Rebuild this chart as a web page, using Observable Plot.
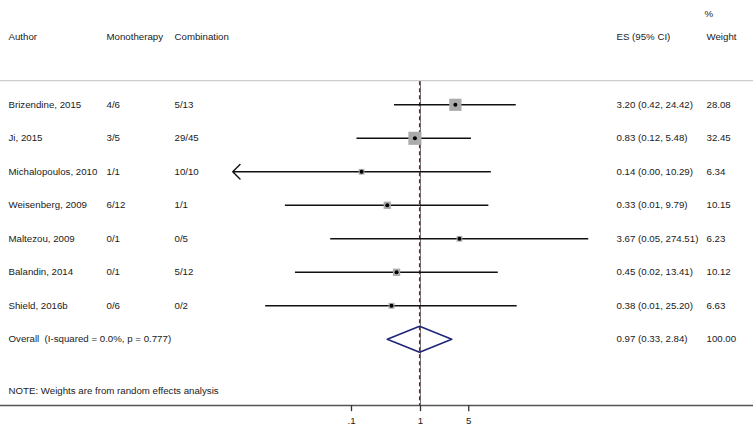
<!DOCTYPE html>
<html><head><meta charset="utf-8">
<script src="https://cdn.jsdelivr.net/npm/d3@7"></script>
<script src="https://cdn.jsdelivr.net/npm/@observablehq/plot@0.6"></script>
<style>body{margin:0;background:#fff}#chart svg{display:block}</style>
</head><body><div id="chart"></div>
<script>
// ---- data ----
const authors = ["Brizendine, 2015","Ji, 2015","Michalopoulos, 2010","Weisenberg, 2009","Maltezou, 2009","Balandin, 2014","Shield, 2016b"];
const monotherapy = ["4/6","3/5","1/1","6/12","0/1","0/1","0/6"];
const combination = ["5/13","29/45","10/10","1/1","0/5","5/12","0/2"];
const es = [3.20, 0.83, 0.14, 0.33, 3.67, 0.45, 0.38];
const ciLow = [0.42, 0.12, 0.001, 0.011, 0.05, 0.0154, 0.0057];
const ciHigh = [24.42, 5.48, 10.29, 9.79, 274.51, 13.41, 25.20];
const esLabels = ["3.20 (0.42, 24.42)","0.83 (0.12, 5.48)","0.14 (0.00, 10.29)","0.33 (0.01, 9.79)","3.67 (0.05, 274.51)","0.45 (0.02, 13.41)","0.38 (0.01, 25.20)"];
const weights = [28.08, 32.45, 6.34, 10.15, 6.23, 10.12, 6.63];
const weightLabels = ["28.08","32.45","6.34","10.15","6.23","10.12","6.63"];
const overallText = "Overall  (I-squared = 0.0%, p = 0.777)";
const overallES = 0.97, overallLow = 0.33, overallHigh = 2.84;
const overallLabel = "0.97 (0.33, 2.84)";
const overallWeight = "100.00";
const noteText = "NOTE: Weights are from random effects analysis";
const headers = ["Author","Monotherapy","Combination","ES (95% CI)","Weight"];
const xTicks = [0.1, 1, 5];
const tickLabels = [".1", "1", "5"];
const axisMin = 0.0019; // lower display limit of the x axis (CIs beyond are arrowed)

// ---- layout (row units) ----
const overallRow = authors.length;
const headerRow = -2.02, pctRow = -2.72, sepRow = -0.72, noteRow = 8.53, axisRow = 8.98;
const tickLen = 0.18, tickLabelRow = 9.45;
const col = {author: 8, mono: 106, comb: 174, es: 616, weight: 706};
const font = "Liberation Sans, Arial, Helvetica, sans-serif";
const fs = 9.7;
const txt = "#1a1a1a";

const rows = authors.map((a, i) => ({
  row: i, author: a, mono: monotherapy[i], comb: combination[i],
  es: es[i], lo: ciLow[i], hi: ciHigh[i], esLabel: esLabels[i],
  w: weights[i], wLabel: weightLabels[i]
}));
const ticks = xTicks.map((v, i) => ({v, label: tickLabels[i]}));
const diamondH = 0.39;
const diamond = [
  {x: overallLow, y: overallRow}, {x: overallES, y: overallRow - diamondH},
  {x: overallHigh, y: overallRow}, {x: overallES, y: overallRow + diamondH},
  {x: overallLow, y: overallRow}
];

const tcol = (data, opts, dx) => Plot.text(data, {frameAnchor: "left", dx, textAnchor: "start", lineAnchor: "middle", fontSize: fs, fill: txt, ...opts});

const chart = Plot.plot({
  width: 753, height: 427,
  marginLeft: 0, marginRight: 0, marginTop: 0, marginBottom: 22,
  style: {fontFamily: font, background: "#fff", overflow: "visible"},
  x: {type: "log", domain: [0.1, 1], range: [351, 420], axis: null},
  y: {domain: [0, 7], range: [104.3, 338.8], axis: null},
  r: {type: "identity"},
  marks: [
    Plot.ruleY([sepRow], {stroke: "#cccccc", strokeWidth: 1.3}),
    Plot.frame({anchor: "bottom", stroke: "#555", strokeWidth: 1.5}),
    Plot.ruleX(ticks, {x: "v", y1: axisRow, y2: axisRow + tickLen, stroke: "#333", strokeWidth: 1.3}),
    Plot.text(ticks, {x: "v", y: () => tickLabelRow, text: "label", fontSize: fs, fill: txt, lineAnchor: "middle"}),
    Plot.ruleX([1], {y1: sepRow + 0.03, y2: axisRow, stroke: "#777", strokeWidth: 1}),
    Plot.ruleX([overallES], {y1: sepRow + 0.03, y2: axisRow, stroke: "#7a1f1f", strokeWidth: 1.3, strokeDasharray: "4,3"}),
    Plot.ruleY(rows.filter(d => d.lo >= axisMin), {x1: "lo", x2: "hi", y: "row", stroke: "#111", strokeWidth: 1.4}),
    Plot.arrow(rows.filter(d => d.lo < axisMin), {x1: "hi", x2: () => axisMin, y1: "row", y2: "row", stroke: "#111", strokeWidth: 1.4, headAngle: 90, headLength: 11}),
    Plot.dot(rows, {x: "es", y: "row", symbol: "square", r: d => 2.3 * Math.sqrt(d.w) / Math.sqrt(Math.PI), fill: "#ababab", stroke: null}),
    Plot.dot(rows, {x: "es", y: "row", r: 2.0, fill: "#000", stroke: null}),
    Plot.line(diamond, {x: "x", y: "y", stroke: "#1f2676", strokeWidth: 1.6}),
    // table text
    tcol(rows, {y: "row", text: "author"}, col.author),
    tcol(rows, {y: "row", text: "mono"}, col.mono),
    tcol(rows, {y: "row", text: "comb"}, col.comb),
    tcol(rows, {y: "row", text: "esLabel"}, col.es),
    tcol(rows, {y: "row", text: "wLabel"}, col.weight),
    tcol([overallText], {y: () => overallRow, text: d => d}, col.author),
    tcol([overallLabel], {y: () => overallRow, text: d => d}, col.es),
    tcol([overallWeight], {y: () => overallRow, text: d => d}, col.weight),
    tcol([headers[0]], {y: () => headerRow, text: d => d}, col.author),
    tcol([headers[1]], {y: () => headerRow, text: d => d}, col.mono),
    tcol([headers[2]], {y: () => headerRow, text: d => d}, col.comb),
    tcol([headers[3]], {y: () => headerRow, text: d => d}, col.es),
    tcol([headers[4]], {y: () => headerRow, text: d => d}, col.weight),
    tcol(["%"], {y: () => pctRow, text: d => d}, col.weight - 2),
    tcol([noteText], {y: () => noteRow, text: d => d}, col.author)
  ]
});
document.getElementById("chart").appendChild(chart);
</script>
</body></html>
